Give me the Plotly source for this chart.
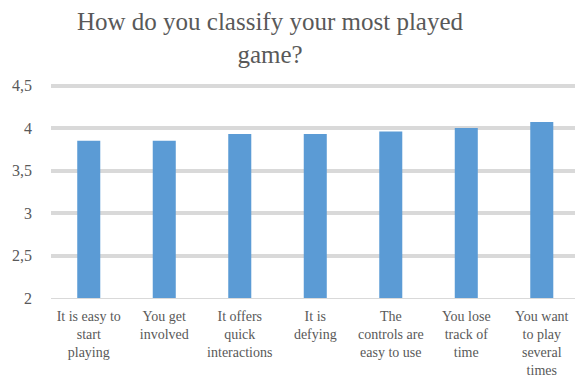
import plotly.graph_objects as go

categories = [
    "It is easy to<br>start<br>playing",
    "You get<br>involved",
    "It offers<br>quick<br>interactions",
    "It is<br>defying",
    "The<br>controls are<br>easy to use",
    "You lose<br>track of<br>time",
    "You want<br>to play<br>several<br>times",
]
values = [3.85, 3.85, 3.93, 3.93, 3.96, 4.0, 4.07]
y_ticks = [2, 2.5, 3, 3.5, 4, 4.5]
y_tick_labels = ["2", "2,5", "3", "3,5", "4", "4,5"]
title_text = "How do you classify your most played<br>game?"

FONT = "Liberation Serif, Times New Roman, serif"
TXT = "#595959"

fig = go.Figure(
    go.Bar(
        x=list(range(len(categories))),
        y=values,
        marker=dict(color="#5b9bd5", line=dict(width=0)),
        width=0.305,
    )
)

fig.update_layout(
    width=575,
    height=381,
    paper_bgcolor="white",
    plot_bgcolor="white",
    margin=dict(l=51, r=0, t=77, b=83, autoexpand=False),
    showlegend=False,
    title=dict(
        text=title_text,
        font=dict(family=FONT, size=25, color=TXT),
        x=270 / 575,
        xanchor="center",
        xref="container",
        y=1 - 30 / 381,
        yanchor="top",
        yref="container",
    ),
    font=dict(family=FONT, color=TXT),
)

fig.update_xaxes(
    tickmode="array",
    tickvals=list(range(len(categories))),
    ticktext=categories,
    range=[-0.5, 6.44],
    showgrid=False,
    showline=True,
    linecolor="#d9d9d9",
    linewidth=1,
    ticks="",
    tickfont=dict(family=FONT, size=14, color=TXT),
    ticklabelstandoff=5,
    tickangle=0,
    zeroline=False,
    automargin=False,
)

fig.update_yaxes(
    range=[2, 4.6],
    tickmode="array",
    tickvals=y_ticks[1:],
    ticktext=y_tick_labels[1:],
    showgrid=True,
    gridcolor="#d9d9d9",
    gridwidth=4,
    zeroline=False,
    showline=False,
    ticks="",
    tickfont=dict(family=FONT, size=16, color=TXT),
    ticklabelstandoff=18,
    automargin=False,
)

# baseline label "2" on an overlaid axis sharing the same scale (no thick grid line there)
fig.update_layout(
    yaxis2=dict(
        overlaying="y",
        side="left",
        range=[2, 4.6],
        tickmode="array",
        tickvals=y_ticks[:1],
        ticktext=y_tick_labels[:1],
        showgrid=False,
        zeroline=False,
        showline=False,
        ticks="",
        tickfont=dict(family=FONT, size=16, color=TXT),
        ticklabelstandoff=18,
        automargin=False,
    )
)
fig.add_trace(go.Scatter(x=[None], y=[None], yaxis="y2", showlegend=False, hoverinfo="skip"))

fig.write_html("out.html")
